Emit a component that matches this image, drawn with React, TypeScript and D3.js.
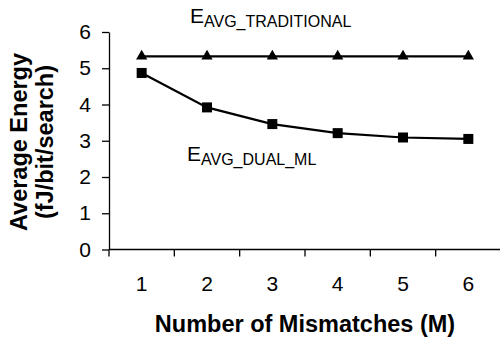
import React, { useEffect, useRef } from "react";
import * as d3 from "d3";

const width = 500;
const height = 341;
const margin = { top: 32, right: 0, bottom: 91.5, left: 109 };

const mismatches = ["1", "2", "3", "4", "5", "6"];
const traditional = [5.33, 5.33, 5.33, 5.33, 5.33, 5.33];
const dualMl = [4.87, 3.92, 3.46, 3.21, 3.09, 3.05];
const yTicks = [0, 1, 2, 3, 4, 5, 6];

const font = "'Liberation Sans', Arial, Helvetica, sans-serif";

const App = () => {
  const ref = useRef<SVGSVGElement>(null);

  useEffect(() => {
    const svg = d3.select(ref.current);
    svg.selectAll("*").remove();

    const x = d3
      .scaleBand()
      .domain(mismatches)
      .range([margin.left, width + 1 - margin.right]);

    const y = d3
      .scaleLinear()
      .domain([0, 6])
      .range([height - margin.bottom, margin.top]);

    // y axis
    const yAxis = svg
      .append("g")
      .attr("transform", `translate(${margin.left},0)`)
      .call(
        d3
          .axisLeft(y)
          .tickValues(yTicks)
          .tickFormat(d3.format("d"))
          .tickSize(7)
          .tickPadding(11)
          .tickSizeOuter(0)
      );
    yAxis.select(".domain").attr("stroke", "#000").attr("stroke-width", 1.3);
    yAxis.selectAll(".tick line").attr("stroke", "#000").attr("stroke-width", 1.3);
    yAxis
      .selectAll(".tick text")
      .attr("font-family", font)
      .attr("font-size", 21)
      .attr("fill", "#000");

    // x axis: ticks between categories
    const xAxis = svg
      .append("g")
      .attr("transform", `translate(0,${y(0)})`);
    xAxis
      .append("line")
      .attr("x1", margin.left)
      .attr("x2", width)
      .attr("stroke", "#000")
      .attr("stroke-width", 1.3);
    const bounds = mismatches.map((m) => x(m) as number);
    xAxis
      .selectAll("line.tk")
      .data(bounds)
      .join("line")
      .attr("class", "tk")
      .attr("x1", (d) => d)
      .attr("x2", (d) => d)
      .attr("y1", 0)
      .attr("y2", 7)
      .attr("stroke", "#000")
      .attr("stroke-width", 1.3);
    xAxis
      .selectAll("text")
      .data(mismatches)
      .join("text")
      .attr("x", (d) => (x(d) as number) + x.bandwidth() / 2)
      .attr("y", 41.5)
      .attr("text-anchor", "middle")
      .attr("font-family", font)
      .attr("font-size", 21)
      .text((d) => d);

    const cx = (i: number) => (x(mismatches[i]) as number) + x.bandwidth() / 2;

    const lineGen = d3
      .line<number>()
      .x((_, i) => cx(i))
      .y((d) => y(d));

    // traditional
    svg
      .append("path")
      .datum(traditional)
      .attr("fill", "none")
      .attr("stroke", "#000")
      .attr("stroke-width", 2.2)
      .attr("d", lineGen);
    svg
      .selectAll("path.tri")
      .data(traditional)
      .join("path")
      .attr("class", "tri")
      .attr("transform", (d, i) => `translate(${cx(i)},${y(d)})`)
      .attr("d", d3.symbol(d3.symbolTriangle, 55)())
      .attr("fill", "#000");

    // dual ML
    svg
      .append("path")
      .datum(dualMl)
      .attr("fill", "none")
      .attr("stroke", "#000")
      .attr("stroke-width", 2.2)
      .attr("d", lineGen);
    svg
      .selectAll("rect.sq")
      .data(dualMl)
      .join("rect")
      .attr("class", "sq")
      .attr("x", (_, i) => cx(i) - 5)
      .attr("y", (d) => y(d) - 5)
      .attr("width", 10)
      .attr("height", 10)
      .attr("fill", "#000");

    // series labels
    const addLabel = (lx: number, ly: number, sub: string) => {
      const t = svg
        .append("text")
        .attr("x", lx)
        .attr("y", ly)
        .attr("font-family", font)
        .attr("fill", "#000");
      t.append("tspan").attr("font-size", 21).text("E");
      t.append("tspan").attr("font-size", 16).attr("dy", 4).text(sub);
    };
    addLabel(190, 23, "AVG_TRADITIONAL");
    addLabel(187, 161, "AVG_DUAL_ML");

    // axis titles
    svg
      .append("text")
      .attr("x", 305)
      .attr("y", 332)
      .attr("text-anchor", "middle")
      .attr("font-family", font)
      .attr("font-weight", "bold")
      .attr("font-size", 23.5)
      .text("Number of Mismatches (M)");

    const yt = svg
      .append("text")
      .attr("transform", "translate(0,142) rotate(-90)")
      .attr("text-anchor", "middle")
      .attr("font-family", font)
      .attr("font-weight", "bold")
      .attr("font-size", 23.5);
    yt.append("tspan").attr("x", 0).attr("y", 27).text("Average Energy");
    yt.append("tspan").attr("x", 0).attr("y", 53).text("(fJ/bit/search)");
  }, []);

  return (
    <svg
      ref={ref}
      width={width}
      height={height}
      style={{ position: "absolute", left: 0, top: 0, background: "#fff" }}
    />
  );
};

export default App;
